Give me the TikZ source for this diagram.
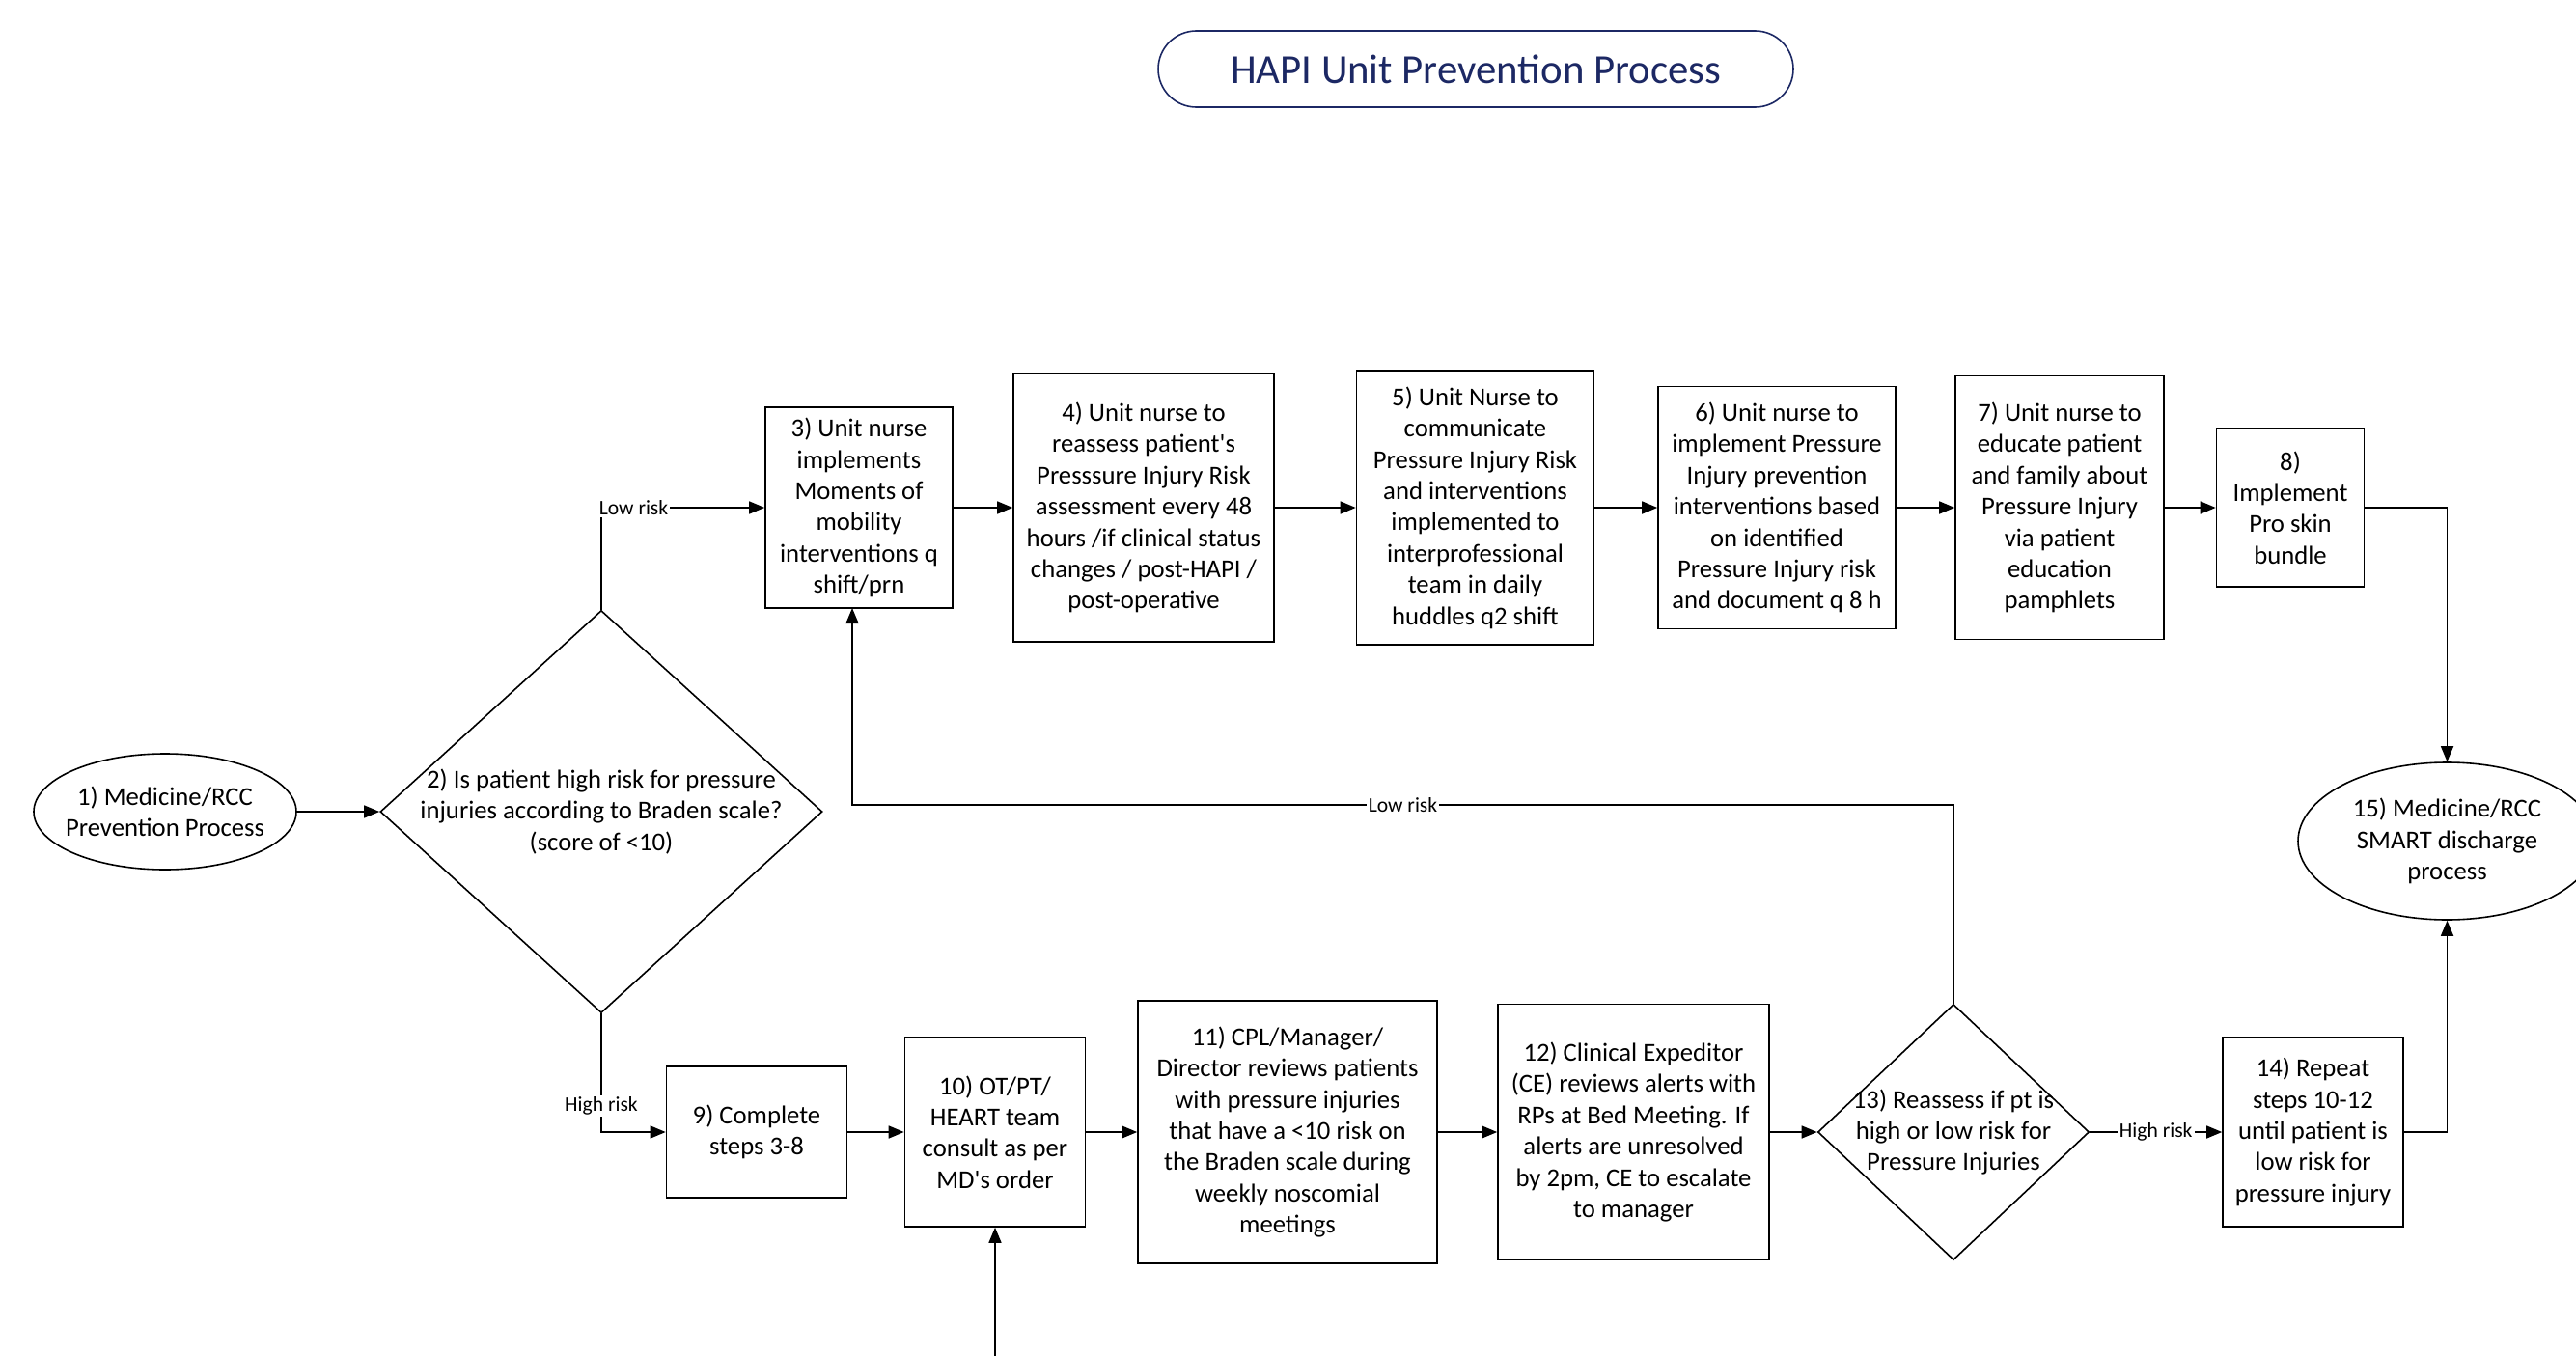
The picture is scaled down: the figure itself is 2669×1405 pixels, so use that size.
\documentclass[tikz,border=0pt]{standalone}
\usepackage{fontspec}
\setmainfont{Carlito}
\usetikzlibrary{shapes.geometric,arrows.meta}
\definecolor{navy}{RGB}{28,40,100}
\begin{document}
\begin{tikzpicture}[x=1pt,y=-1pt, line width=1.6pt,
  txt/.style={font=\fontsize{26.7}{32.4}\selectfont, align=center},
  box/.style={draw, rectangle, txt, inner sep=0pt},
  lbl/.style={font=\fontsize{21.6}{24}\selectfont, fill=white, inner sep=2pt},
  arr/.style={-{Triangle[length=16pt,width=13pt]}}]
\useasboundingbox (0,0) rectangle (2669,1405);
\fill[white] (0,0) rectangle (2669,1405);

\node[draw=navy, text=navy, rounded corners=39.5pt, minimum width=658pt, minimum height=79pt,
  font=\fontsize{42.8}{50}\selectfont, inner sep=0pt] (title) at (1529,71.5) {HAPI Unit Prevention Process};

\node[draw, ellipse, minimum width=272pt, minimum height=120pt, inner sep=0pt,
  label={[txt]center:{1) Medicine/RCC\\Prevention Process}}] (e1) at (171,841) {};
\node[draw, diamond, minimum width=458pt, minimum height=417pt, inner sep=0pt,
  label={[txt]center:{2) Is patient high risk for pressure\\injuries according to Braden scale?\\(score of <10)}}] (d2) at (623,841) {};

\node[box, minimum width=194pt, minimum height=208pt] (b3) at (890,526) {3) Unit nurse\\implements\\Moments of\\mobility\\interventions q\\shift/prn};
\node[box, minimum width=270pt, minimum height=278pt] (b4) at (1185,526) {4) Unit nurse to\\reassess patient\textquotesingle s\\Presssure Injury Risk\\assessment every 48\\hours /if clinical status\\changes / post-HAPI /\\post-operative};
\node[box, minimum width=246pt, minimum height=284pt] (b5) at (1528.5,526) {5) Unit Nurse to\\communicate\\Pressure Injury Risk\\and interventions\\implemented to\\interprofessional\\team in daily\\huddles q2 shift};
\node[box, minimum width=246pt, minimum height=251pt] (b6) at (1841,526) {6) Unit nurse to\\implement Pressure\\Injury prevention\\interventions based\\on identified\\Pressure Injury risk\\and document q 8 h};
\node[box, minimum width=216pt, minimum height=273pt] (b7) at (2134,526) {7) Unit nurse to\\educate patient\\and family about\\Pressure Injury\\via patient\\education\\pamphlets};
\node[box, minimum width=153pt, minimum height=164pt] (b8) at (2373,526) {8)\\Implement\\Pro skin\\bundle};

\node[draw, ellipse, minimum width=309pt, minimum height=163pt, inner sep=0pt,
  label={[txt]center:{15) Medicine/RCC\\SMART discharge\\process}}] (e15) at (2535.5,871.5) {};

\node[box, minimum width=187pt, minimum height=136pt] (b9) at (784,1173) {9) Complete\\steps 3-8};
\node[box, minimum width=187pt, minimum height=196pt] (b10) at (1031,1173) {10) OT/PT/\\HEART team\\consult as per\\MD\textquotesingle s order};
\node[box, minimum width=310pt, minimum height=272pt] (b11) at (1334,1173) {11) CPL/Manager/\\Director reviews patients\\with pressure injuries\\that have a <10 risk on\\the Braden scale during\\weekly noscomial\\meetings};
\node[box, minimum width=281pt, minimum height=265pt] (b12) at (1692.5,1173) {12) Clinical Expeditor\\(CE) reviews alerts with\\RPs at Bed Meeting. If\\alerts are unresolved\\by 2pm, CE to escalate\\to manager};
\node[draw, diamond, minimum width=281pt, minimum height=265pt, inner sep=0pt,
  label={[txt]center:{13) Reassess if pt is\\high or low risk for\\Pressure Injuries}}] (d13) at (2024,1173) {};
\node[box, minimum width=187pt, minimum height=196pt] (b14) at (2396.5,1173) {14) Repeat\\steps 10-12\\until patient is\\low risk for\\pressure injury};

\coordinate (lowrow) at (0,834);
\coordinate (b3in) at (883,630);
\coordinate (in10) at (1031,1405);
\coordinate (out14) at (2396.5,1405);

\draw[arr] (e1.east) -- (d2.west);
\draw[arr] (d2.north) |- (b3.west) node[lbl, pos=0.5, anchor=west, xshift=-5pt] {Low risk};
\draw[arr] (b3.east) -- (b4.west);
\draw[arr] (b4.east) -- (b5.west);
\draw[arr] (b5.east) -- (b6.west);
\draw[arr] (b6.east) -- (b7.west);
\draw[arr] (b7.east) -- (b8.west);
\draw[arr] (b8.east) -| (e15.north);
\draw[arr] (d2.south) |- (b9.west) node[lbl, pos=0.39] {High risk};
\draw[arr] (b9.east) -- (b10.west);
\draw[arr] (b10.east) -- (b11.west);
\draw[arr] (b11.east) -- (b12.west);
\draw[arr] (b12.east) -- (d13.west);
\draw[arr] (d13.east) -- (b14.west) node[lbl, midway] {High risk};
\draw[arr] (b14.east) -| (e15.south);
\draw[arr] (d13.north) |- (b3in |- lowrow) node[lbl, pos=0.75] {Low risk} -- (b3in);
\draw[arr] (in10) -- (b10.south);
\draw (b14.south) -- (out14);
\end{tikzpicture}
\end{document}
